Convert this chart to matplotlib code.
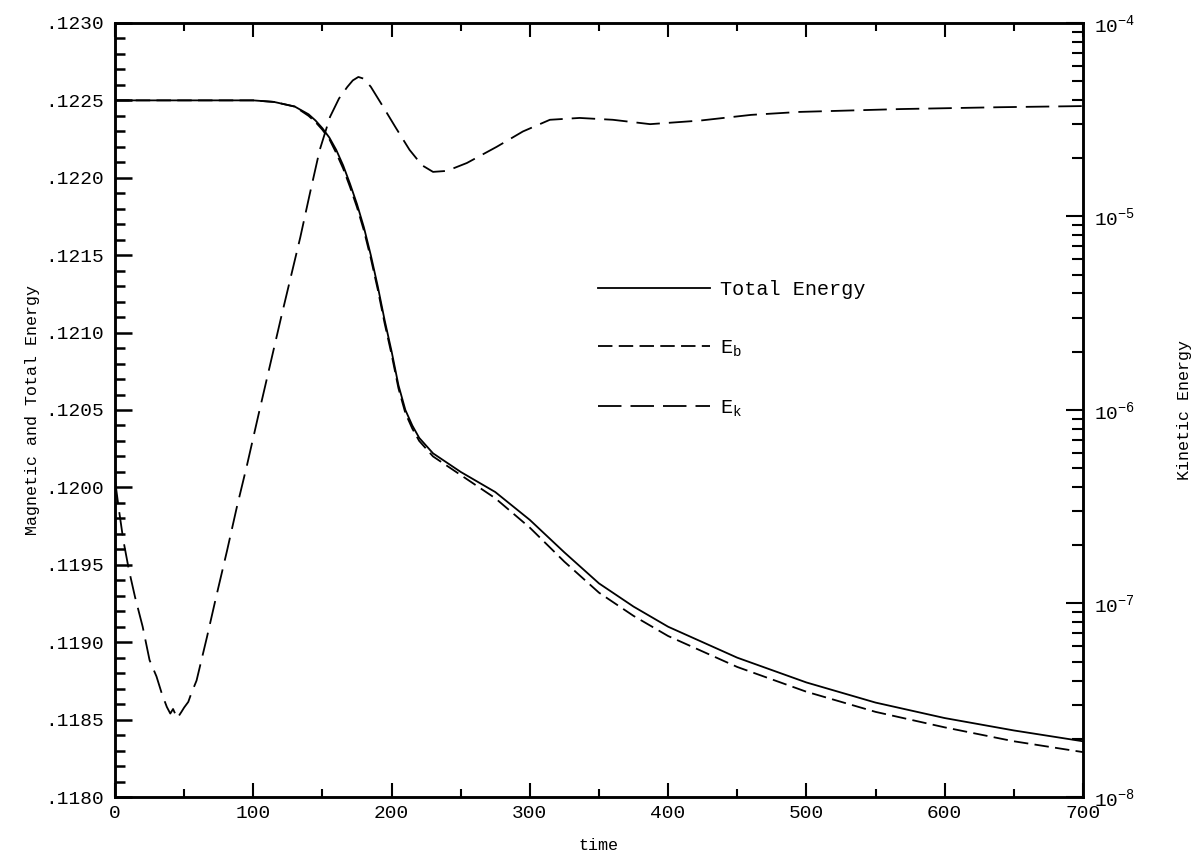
import matplotlib.pyplot as plt
from matplotlib.ticker import MultipleLocator, FuncFormatter, LogLocator, NullFormatter

plt.rcParams['font.family'] = ['Liberation Mono', 'DejaVu Sans']
plt.rcParams['mathtext.fontset'] = 'custom'
plt.rcParams['mathtext.rm'] = 'Liberation Mono'
plt.rcParams['mathtext.it'] = 'Liberation Mono'

# total energy (left axis)
t_tot = [0, 50, 100, 115, 130, 140, 145, 150, 155, 160, 165, 170, 175, 180, 185,
         190, 195, 200, 205, 210, 215, 220, 230, 240, 250, 275, 300, 325, 350,
         375, 400, 450, 500, 550, 600, 650, 700]
e_tot = [0.12250, 0.12250, 0.12250, 0.12249, 0.12246, 0.12241, 0.12237, 0.12232,
         0.12226, 0.12218, 0.12208, 0.12196, 0.12183, 0.12168, 0.12150,
         0.12130, 0.12108, 0.12088, 0.12066, 0.12050, 0.12040, 0.12032,
         0.12022, 0.12016, 0.12010, 0.11997, 0.11979, 0.11958, 0.11938,
         0.11923, 0.11910, 0.11890, 0.11874, 0.11861, 0.11851, 0.11843, 0.11836]

# magnetic energy E_b (left axis)
t_eb = [0, 50, 100, 115, 130, 140, 145, 150, 155, 160, 165, 170, 175, 180, 185,
        190, 195, 200, 205, 210, 215, 220, 230, 240, 250, 275, 300, 325, 350,
        375, 400, 450, 500, 550, 600, 650, 700]
e_b = [0.12250, 0.12250, 0.12250, 0.12249, 0.12246, 0.12240, 0.12236, 0.12231,
       0.12225, 0.12216, 0.12206, 0.12194, 0.12181, 0.12166, 0.12148,
       0.12128, 0.12106, 0.12086, 0.12064, 0.12048, 0.12038, 0.12030,
       0.12020, 0.12014, 0.12008, 0.11993, 0.11974, 0.11952, 0.11932,
       0.11917, 0.11904, 0.11884, 0.11868, 0.11855, 0.11845, 0.11836, 0.11829]

# kinetic energy E_k (right log axis)
t_ek = [0, 3, 6, 10, 14.5, 20, 25, 30, 34, 37.5, 40, 42, 45, 48, 50, 53, 55, 59,
        66.5, 73, 81, 88, 95.5, 104, 112, 120, 134, 141, 148, 155.5, 162, 168,
        172, 176, 180, 185, 194, 203, 213, 222, 230, 240, 254.5, 276, 295, 314.5,
        336, 360, 387, 423, 460, 495, 568, 640, 700]
e_k = [4.35e-7, 3.0e-7, 2.13e-7, 1.5e-7, 1.08e-7, 7.6e-8, 5.1e-8, 4.2e-8, 3.4e-8,
       2.92e-8, 2.7e-8, 2.85e-8, 2.55e-8, 2.75e-8, 2.9e-8, 3.1e-8, 3.4e-8, 4.0e-8,
       6.7e-8, 1.07e-7, 1.87e-7, 3.12e-7, 5.2e-7, 9.6e-7, 1.69e-6, 2.98e-6, 7.8e-6,
       1.32e-5, 2.2e-5, 3.27e-5, 4.07e-5, 4.67e-5, 5.05e-5, 5.26e-5, 5.15e-5,
       4.68e-5, 3.68e-5, 2.88e-5, 2.21e-5, 1.84e-5, 1.70e-5, 1.72e-5, 1.89e-5,
       2.29e-5, 2.75e-5, 3.16e-5, 3.23e-5, 3.16e-5, 3.0e-5, 3.13e-5, 3.35e-5,
       3.47e-5, 3.59e-5, 3.67e-5, 3.72e-5]

fig = plt.figure(figsize=(11.94, 8.57), dpi=100)
ax = fig.add_axes([0.0963, 0.07, 0.8107, 0.9032])
ax2 = ax.twinx()

l1, = ax.plot(t_tot, e_tot, color='black', lw=1.3, label='Total Energy')
l2, = ax.plot(t_eb, e_b, color='black', lw=1.3, dashes=(8, 3.5), label='E$_\\mathrm{b}$')
l3, = ax2.plot(t_ek, e_k, color='black', lw=1.3, dashes=(13, 5), label='E$_\\mathrm{k}$')

ax.set_xlim(0, 700)
ax.set_ylim(0.1180, 0.1230)
ax2.set_yscale('log')
ax2.set_ylim(1e-8, 1e-4)

ax.xaxis.set_major_locator(MultipleLocator(100))
ax.xaxis.set_minor_locator(MultipleLocator(50))
ax.yaxis.set_major_locator(MultipleLocator(0.0005))
ax.yaxis.set_minor_locator(MultipleLocator(0.0001))
ax.yaxis.set_major_formatter(FuncFormatter(lambda v, p: ('%.4f' % v)[1:]))

ax2.yaxis.set_major_locator(LogLocator(base=10, numticks=10))
ax2.yaxis.set_minor_locator(LogLocator(base=10, subs=range(2, 10), numticks=20))
ax2.yaxis.set_minor_formatter(NullFormatter())

ax.tick_params(axis='x', which='both', direction='in', top=True, labelsize=14, pad=6, width=1.5)
ax.tick_params(axis='x', which='major', length=10)
ax.tick_params(axis='x', which='minor', length=6)
ax.tick_params(axis='y', which='both', direction='in', right=False, labelsize=14, pad=8, width=1.8)
ax.tick_params(axis='y', which='major', length=12)
ax.tick_params(axis='y', which='minor', length=7)
ax2.tick_params(axis='y', which='both', direction='in', labelsize=14, pad=8, width=1.5)
ax2.tick_params(axis='y', which='major', length=12)
ax2.tick_params(axis='y', which='minor', length=8)

for a in (ax, ax2):
    for s in a.spines.values():
        s.set_linewidth(1.8)

ax.set_xlabel('time', fontsize=12, labelpad=11)
ax.set_ylabel('Magnetic and Total Energy', fontsize=12, labelpad=4)
ax2.set_ylabel('Kinetic Energy', fontsize=12, labelpad=30)

fig.legend(handles=[l1, l2, l3], loc='upper left', bbox_to_anchor=(0.5008, 0.6733),
           frameon=False, fontsize=14.5, handlelength=5.57, handletextpad=0.5,
           labelspacing=1.96, borderpad=0, borderaxespad=0)

fig.savefig('out.png', dpi=100)
